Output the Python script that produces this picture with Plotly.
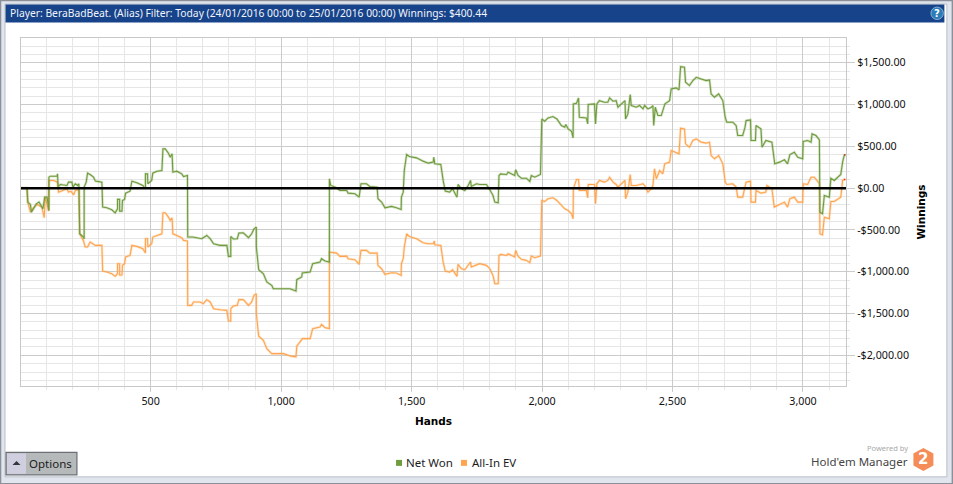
import plotly.graph_objects as go

W, H = 953, 484
L, R, T, B = 20.5, 846.5, 37.5, 386.0

TITLE = "Player: BeraBadBeat. (Alias) Filter: Today (24/01/2016 00:00 to 25/01/2016 00:00) Winnings: $400.44"
SERIES_NAMES = ["Net Won", "All-In EV"]
y_ticks = [-2000, -1500, -1000, -500, 0, 500, 1000, 1500]
y_labels = ["-$2,000.00", "-$1,500.00", "-$1,000.00", "-$500.00", "$0.00", "$500.00", "$1,000.00", "$1,500.00"]

net_hands = [3,26,29,39,43,51,62,72,80,87,94,103,110,110,115,141,143,145,154,179,185,198,202,211,220,225,228,243,245,245,253,258,268,281,288,313,316,332,351,364,373,373,381,381,390,392,400,404,421,428,447,470,480,480,488,489,504,508,524,543,547,556,568,575,582,585,600,619,626,641,642,661,696,715,728,741,766,792,798,807,807,817,832,838,855,875,887,896,905,905,914,932,945,964,970,1034,1057,1060,1079,1081,1111,1121,1149,1155,1168,1185,1185,1190,1213,1225,1251,1257,1283,1299,1306,1327,1340,1368,1371,1385,1398,1423,1442,1460,1461,1468,1472,1481,1491,1519,1544,1564,1583,1585,1589,1612,1621,1629,1646,1657,1674,1678,1691,1704,1717,1726,1729,1749,1761,1787,1800,1812,1819,1832,1835,1841,1864,1870,1895,1899,1908,1921,1940,1953,1959,1972,1994,1999,2010,2023,2042,2057,2074,2087,2091,2100,2113,2119,2120,2132,2140,2143,2170,2175,2177,2201,2205,2210,2220,2239,2252,2259,2272,2284,2291,2304,2318,2320,2329,2338,2342,2361,2374,2387,2393,2406,2419,2425,2428,2434,2444,2457,2466,2471,2489,2495,2514,2525,2531,2546,2550,2565,2578,2591,2610,2629,2642,2648,2661,2677,2693,2702,2708,2731,2744,2750,2769,2778,2782,2799,2801,2818,2820,2839,2843,2858,2881,2884,2892,2910,2929,2941,2950,2967,2980,2999,3001,3018,3031,3035,3050,3063,3065,3075,3082,3101,3107,3120,3145,3152,3158,3165]
net_won = [0,0,-167,-195,-287,-247,-187,-167,-207,-247,-108,-108,-267,131,143,143,171,20,44,32,72,72,12,52,32,52,-546,-585,-609,12,72,179,163,131,84,72,-227,-235,-259,-295,-247,-135,-135,-275,-275,-147,-135,-60,-36,84,64,32,-8,171,171,52,92,179,203,211,470,470,418,370,410,191,203,171,139,151,-585,-585,-605,-566,-605,-665,-685,-685,-816,-816,-578,-609,-605,-538,-534,-593,-546,-486,-466,-705,-976,-1024,-1123,-1163,-1203,-1203,-1231,-1095,-1063,-1016,-1004,-904,-884,-844,-872,-884,112,32,4,-28,-28,-60,-68,-108,52,52,20,12,-127,-167,-235,-219,-235,-255,-108,-48,211,402,378,362,323,299,311,370,291,283,92,-36,-48,-8,-108,44,-8,-28,32,92,20,52,44,44,-20,-88,-167,-175,151,171,163,191,151,219,151,119,119,80,151,131,163,828,801,840,856,828,749,729,761,709,681,601,1008,1016,1079,848,840,769,1000,1008,769,1008,1047,1028,1028,1079,1040,1047,968,1008,1047,828,888,1119,988,968,988,948,988,948,968,988,749,968,868,868,948,1008,1047,1187,1199,1175,1454,1446,1267,1227,1286,1326,1306,1286,1294,1127,1087,1127,1047,848,789,789,749,629,629,729,808,817,570,570,749,709,490,570,550,490,291,311,339,291,402,430,370,351,558,570,550,649,629,578,-287,-307,-88,-108,119,92,163,311,390,400]

ev_hands = [3,26,29,39,51,64,83,92,96,109,110,128,143,147,179,185,194,205,211,225,228,243,249,258,268,288,313,316,332,351,364,373,373,381,381,390,392,400,404,421,428,447,470,480,480,488,489,504,508,524,543,547,556,568,575,582,585,600,619,626,641,642,657,664,689,702,715,728,741,766,792,798,807,807,817,832,838,855,875,887,896,905,905,914,932,945,964,1009,1034,1057,1060,1079,1081,1111,1121,1149,1155,1168,1185,1185,1213,1225,1251,1257,1283,1299,1306,1327,1340,1368,1371,1385,1398,1423,1442,1460,1461,1468,1472,1481,1491,1519,1544,1564,1583,1587,1589,1612,1621,1629,1646,1657,1674,1678,1691,1704,1717,1726,1729,1749,1761,1787,1800,1812,1819,1832,1835,1841,1864,1870,1895,1899,1908,1921,1940,1953,1959,1972,1994,1999,2010,2023,2042,2057,2074,2087,2100,2113,2119,2120,2132,2140,2143,2170,2175,2177,2201,2205,2210,2220,2239,2252,2259,2272,2284,2291,2304,2318,2320,2329,2338,2342,2361,2374,2387,2393,2406,2419,2425,2431,2438,2451,2463,2470,2489,2495,2514,2525,2531,2546,2550,2565,2578,2591,2610,2629,2642,2648,2661,2677,2693,2702,2708,2731,2744,2750,2769,2778,2782,2799,2801,2818,2820,2839,2858,2862,2881,2890,2910,2929,2941,2950,2967,2980,2999,3001,3018,3031,3044,3063,3065,3075,3082,3101,3107,3120,3145,3152,3158,3165]
all_in_ev = [0,0,-167,-287,-235,-195,-227,-354,-108,-275,92,92,72,-48,-8,-48,-36,-80,-28,-20,-546,-633,-705,-705,-645,-685,-685,-992,-1004,-1024,-1055,-1024,-904,-904,-1040,-1040,-924,-904,-824,-805,-685,-697,-725,-777,-605,-605,-705,-665,-585,-566,-546,-295,-295,-347,-386,-354,-546,-566,-593,-625,-633,-1402,-1402,-1362,-1362,-1382,-1334,-1362,-1442,-1454,-1462,-1589,-1589,-1442,-1410,-1402,-1334,-1334,-1402,-1362,-1283,-1263,-1502,-1772,-1820,-1920,-1980,-1980,-2007,-2019,-1892,-1812,-1800,-1800,-1681,-1661,-1629,-1669,-1681,-765,-777,-816,-813,-844,-856,-912,-745,-745,-777,-777,-924,-964,-1032,-1012,-1016,-1044,-904,-844,-705,-546,-578,-605,-653,-665,-665,-633,-677,-685,-884,-992,-1004,-976,-1055,-912,-964,-976,-924,-884,-944,-924,-904,-924,-964,-1044,-1143,-1143,-805,-793,-805,-785,-824,-745,-813,-852,-864,-892,-813,-832,-813,-147,-159,-127,-116,-147,-207,-247,-267,-307,-366,-8,104,104,-28,-28,-116,44,44,-187,52,92,72,92,131,72,44,12,52,92,-127,-48,163,32,32,40,52,32,-48,-8,32,231,112,211,171,291,311,450,430,410,717,709,530,490,570,589,550,538,550,390,351,390,291,72,44,52,12,-108,-108,12,72,84,-167,-167,-28,-60,-48,32,-8,-227,-195,-167,-227,-127,-108,-167,-167,52,44,131,131,52,-546,-558,-347,-366,-159,-159,-108,92,104,104]

GREEN, ORANGE = "#6f9c3d", "#ffa54f"
HALO_G, HALO_O = "rgba(111,156,61,0.28)", "rgba(255,165,79,0.28)"


def px(x):
    return (x - L) / (R - L)


def py(y):
    return (B - y) / (B - T)


fig = go.Figure()
for hx, vy, halo, col, nm in [
    (ev_hands, all_in_ev, HALO_O, ORANGE, SERIES_NAMES[1]),
    (net_hands, net_won, HALO_G, GREEN, SERIES_NAMES[0]),
]:
    fig.add_trace(go.Scatter(x=hx, y=vy, mode="lines", line=dict(color=halo, width=2.6), showlegend=False, hoverinfo="skip"))
    fig.add_trace(go.Scatter(x=hx, y=vy, mode="lines", line=dict(color=col, width=1.1), showlegend=False, name=nm))
    fig.add_trace(go.Scatter(x=[hx[-1] - 8, hx[-1]], y=[vy[-1], vy[-1]], mode="lines", line=dict(color="#ff2020", width=1.5, dash="1px,1px"), showlegend=False, hoverinfo="skip"))

shapes = [
    dict(type="rect", xref="paper", yref="paper", x0=px(4.5), x1=px(947.5), y0=py(477), y1=py(3.5), fillcolor="white", line=dict(color="#b9bfc8", width=1), layer="below"),
    dict(type="rect", xref="paper", yref="paper", x0=px(0), x1=px(953), y0=py(484), y1=py(0), fillcolor="rgba(0,0,0,0)", line=dict(color="#8c9098", width=1.5), layer="below"),
    dict(type="rect", xref="paper", yref="paper", x0=px(5), x1=px(945), y0=py(22), y1=py(4), fillcolor="#17438a", line=dict(width=0), layer="below"),
    dict(type="circle", xref="paper", yref="paper", x0=px(931.5), x1=px(944), y0=py(19), y1=py(6.5), fillcolor="#2c7cb8", line=dict(color="#a8cbe2", width=0.7), layer="above"),
    dict(type="rect", xref="paper", yref="paper", x0=px(5.5), x1=px(76.5), y0=py(475), y1=py(452.5), fillcolor="#b6b9b9", line=dict(color="#6b6f74", width=1.2), layer="above"),
    dict(type="rect", xref="paper", yref="paper", x0=px(6.5), x1=px(25.5), y0=py(474), y1=py(453.5), fillcolor="#cfcfe0", line=dict(width=0), layer="above"),
    dict(type="path", xref="paper", yref="paper", path=f"M {px(12)} {py(465)} L {px(20)} {py(465)} L {px(16)} {py(461)} Z", fillcolor="#33363a", line=dict(width=0), layer="above"),
    dict(type="path", xref="paper", yref="paper",
         path=f"M {px(924)} {py(448)} L {px(934)} {py(453.5)} L {px(934)} {py(465.5)} L {px(924)} {py(471)} L {px(914)} {py(465.5)} L {px(914)} {py(453.5)} Z",
         fillcolor="#f58d58", line=dict(width=0), layer="above"),
    dict(type="line", xref="x", yref="y", x0=3, x1=3165, y0=0, y1=0, line=dict(color="black", width=2.5), layer="above"),
    dict(type="rect", xref="paper", yref="paper", x0=px(396), x1=px(402), y0=py(466), y1=py(460), fillcolor=GREEN, line=dict(width=0), layer="above"),
    dict(type="rect", xref="paper", yref="paper", x0=px(461), x1=px(467), y0=py(466), y1=py(460), fillcolor=ORANGE, line=dict(width=0), layer="above"),
]


def note(x, y, text, size=11, color="black", anchor="left", bold=False, family="Noto Sans"):
    t = f"<b>{text}</b>" if bold else text
    return dict(xref="paper", yref="paper", x=px(x), y=py(y), text=t, showarrow=False, xanchor=anchor, yanchor="middle",
                font=dict(size=size, color=color, family=family), borderpad=0, borderwidth=0)


annotations = [
    note(9, 12.5, TITLE, size=10.3, color="#f2f5fa", family="Noto Sans"),
    note(937.8, 12.7, "?", size=10, color="white", anchor="center", bold=True, family="DejaVu Sans"),
    note(29, 464, "Options", size=11.5, color="#1c1c1c"),
    note(909, 448.5, "Powered by", size=7.5, color="#a9a9a9", anchor="right"),
    note(909, 462, "Hold'em Manager", size=11.5, color="#444444", anchor="right"),
    note(924, 459.5, "2", size=15, color="white", anchor="center", bold=True, family="DejaVu Sans"),
    note(406, 463, SERIES_NAMES[0], size=11.5, color="#1c1c1c"),
    note(472, 463, SERIES_NAMES[1], size=11.5, color="#1c1c1c"),
]

GRID_MAJ, GRID_MIN = "#cbcbcb", "#e6e6e6"
TICKF = dict(size=10.7, family="Noto Sans", color="#111111")
fig.update_layout(
    width=W, height=H, autosize=False,
    margin=dict(l=L, r=W - R, t=T, b=H - B, pad=0),
    paper_bgcolor="#e1e5ed", plot_bgcolor="white",
    font=dict(family="Noto Sans", size=11, color="#111111"),
    shapes=shapes, annotations=annotations,
    showlegend=False,
    xaxis=dict(range=[3, 3165], tick0=0, dtick=500, tickformat=",d", tickfont=TICKF, ticks="outside", ticklen=5, automargin=False,
               tickcolor=GRID_MAJ, showgrid=True, gridcolor=GRID_MAJ, gridwidth=1, zeroline=False,
               showline=True, linecolor="#c8c8c8", mirror=True,
               minor=dict(dtick=100, tick0=0, showgrid=True, gridcolor=GRID_MIN, gridwidth=1, ticks="outside", ticklen=3, tickcolor=GRID_MIN),
               title=dict(text="<b>Hands</b>", font=dict(size=10.5, family="DejaVu Sans", color="black"), standoff=10)),
    yaxis=dict(range=[-2367, 1796], side="right", tickmode="array", tickvals=y_ticks, ticktext=y_labels, tickfont=TICKF, ticks="outside", ticklen=8, automargin=False,
               tickcolor=GRID_MAJ, showgrid=True, gridcolor=GRID_MAJ, gridwidth=1, zeroline=False,
               showline=True, linecolor="#c8c8c8", mirror=True,
               minor=dict(dtick=100, tick0=0, showgrid=True, gridcolor=GRID_MIN, gridwidth=1, ticks="outside", ticklen=3, tickcolor=GRID_MIN),
               title=dict(text="<b>Winnings</b>", font=dict(size=10.5, family="DejaVu Sans", color="black"), standoff=9)),
)

fig.write_html("out.html", config=dict(displayModeBar=False),
               post_script="document.body.style.margin='0';document.documentElement.style.overflow='hidden';")
